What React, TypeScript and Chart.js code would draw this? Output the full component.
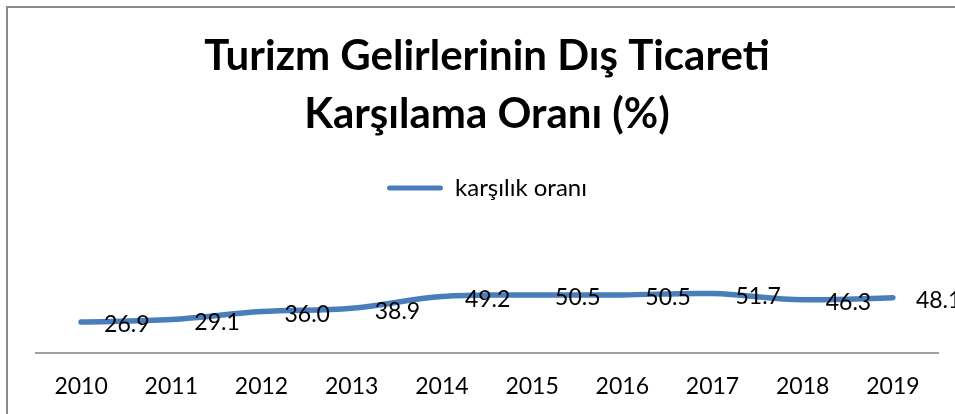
import React, { useEffect, useRef } from 'react';
import { Chart, registerables } from 'chart.js';

Chart.register(...registerables);

const years = ['2010', '2011', '2012', '2013', '2014', '2015', '2016', '2017', '2018', '2019'];
const rates = [26.9, 29.1, 36.0, 38.9, 49.2, 50.5, 50.5, 51.7, 46.3, 48.1];
const seriesLabel = 'karşılık oranı';
const titleLines = ['Turizm Gelirlerinin Dış Ticareti', 'Karşılama Oranı (%)'];

const LINE_COLOR = '#4A7EBB';
const FONT = 'Lato, "Open Sans", sans-serif';

export default function App() {
  const ref = useRef<HTMLCanvasElement | null>(null);

  useEffect(() => {
    if (!ref.current) return;

    const framePlugin = {
      id: 'frame',
      beforeDraw(chart: any) {
        const ctx = chart.ctx;
        ctx.save();
        ctx.fillStyle = '#ffffff';
        ctx.fillRect(0, 0, chart.width, chart.height);
        ctx.strokeStyle = '#8a8a8a';
        ctx.lineWidth = 2;
        ctx.strokeRect(7, 7, chart.width + 50, chart.height + 50);
        ctx.restore();
      },
    };

    const legendSizer = {
      id: 'legendSizer',
      beforeLayout(chart: any) {
        const lg = chart.legend;
        if (lg && !lg.__patched) {
          const orig = lg.fit.bind(lg);
          lg.fit = () => {
            orig();
            lg.height = 117;
          };
          lg.__patched = true;
        }
      },
    };

    const labelsPlugin = {
      id: 'pointLabels',
      afterDatasetsDraw(chart: any) {
        const ctx = chart.ctx;
        const meta = chart.getDatasetMeta(0);
        const data = chart.data.datasets[0].data as number[];
        ctx.save();
        ctx.font = `23px ${FONT}`;
        ctx.fillStyle = '#000000';
        ctx.textAlign = 'left';
        ctx.textBaseline = 'middle';
        meta.data.forEach((pt: any, i: number) => {
          ctx.fillText(data[i].toFixed(1), pt.x + 23, pt.y + 3);
        });
        ctx.restore();
      },
    };

    const chart = new Chart(ref.current, {
      type: 'line',
      data: {
        labels: years,
        datasets: [
          {
            label: seriesLabel,
            data: rates,
            borderColor: LINE_COLOR,
            backgroundColor: LINE_COLOR,
            borderWidth: 5.5,
            borderCapStyle: 'round',
            borderJoinStyle: 'round',
            pointRadius: 0,
            pointHoverRadius: 0,
            tension: 0.35,
            fill: false,
          },
        ],
      },
      options: {
        responsive: false,
        animation: false,
        devicePixelRatio: 1,
        layout: { padding: { top: 0, left: 36, right: 17, bottom: -7 } },
        plugins: {
          title: {
            display: true,
            text: titleLines,
            color: '#000000',
            font: { family: FONT, size: 42, weight: 'bold', lineHeight: 58 / 42 },
            padding: { top: 27, bottom: 24 },
          },
          legend: {
            display: true,
            position: 'top',
            labels: {
              color: '#000000',
              font: { family: FONT, size: 24 },
              boxWidth: 56,
              boxHeight: 5,
              padding: 9,
              useBorderRadius: true,
              borderRadius: 2.5,
              generateLabels: (chart: any) =>
                chart.data.datasets.map((ds: any, i: number) => ({
                  text: ds.label,
                  fillStyle: LINE_COLOR,
                  strokeStyle: LINE_COLOR,
                  lineWidth: 0,
                  borderRadius: 2.5,
                  datasetIndex: i,
                  hidden: false,
                  fontColor: '#000000',
                })),
            },
          },
          tooltip: { enabled: false },
        },
        scales: {
          x: {
            offset: true,
            grid: { display: false, drawTicks: false },
            border: { display: true, color: '#a0a0a0', width: 2 },
            ticks: {
              color: '#000000',
              font: { family: FONT, size: 23 },
              padding: 20.2,
              maxRotation: 0,
              autoSkip: false,
            },
          },
          y: {
            display: false,
            min: 0,
            max: 60,
          },
        },
      },
      plugins: [framePlugin, legendSizer, labelsPlugin],
    } as any);

    return () => chart.destroy();
  }, []);

  return (
    <div style={{ position: 'absolute', left: 0, top: 0, width: 955, height: 414 }}>
      <canvas ref={ref} width={955} height={414} style={{ display: 'block', width: 955, height: 414 }} />
    </div>
  );
}
